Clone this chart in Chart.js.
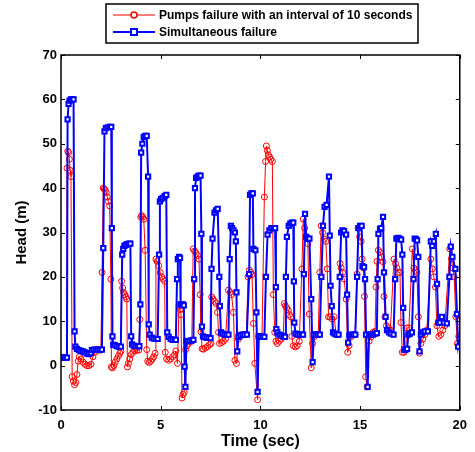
<!DOCTYPE html>
<html>
<head>
<meta charset="utf-8">
<script src="https://cdn.jsdelivr.net/npm/chart.js@4.4.1/dist/chart.umd.min.js"></script>
<style>
  body { margin: 0; background: #fff; }
</style>
</head>
<body>
<canvas id="headChart" width="475" height="452"></canvas>
<script>
var seriesNames = ["Pumps failure with an interval of 10 seconds", "Simultaneous failure"];
var xTicks = [0, 5, 10, 15, 20];
var yTicks = [-10, 0, 10, 20, 30, 40, 50, 60, 70];

// pumps failure with an interval of 10 seconds (red)
var redTime = [0, 0.1, 0.2, 0.27, 0.3, 0.34, 0.38, 0.42, 0.46, 0.5,
  0.56, 0.62, 0.68, 0.74, 0.8, 0.86, 0.92, 1.0, 1.1, 1.2,
  1.3, 1.4, 1.5, 1.6, 1.7, 1.8, 1.9, 2.0, 2.06, 2.12,
  2.17, 2.22, 2.27, 2.32, 2.38, 2.44, 2.5, 2.53, 2.58, 2.65,
  2.72, 2.8, 2.88, 2.95, 3.0, 3.04, 3.09, 3.14, 3.2, 3.25,
  3.3, 3.33, 3.38, 3.45, 3.52, 3.6, 3.7, 3.8, 3.9, 3.95,
  4.0, 4.05, 4.1, 4.15, 4.22, 4.3, 4.35, 4.42, 4.5, 4.58,
  4.65, 4.72, 4.76, 4.82, 4.9, 4.98, 5.05, 5.12, 5.2, 5.23,
  5.3, 5.4, 5.5, 5.6, 5.7, 5.76, 5.84, 5.92, 5.98, 6.02,
  6.07, 6.12, 6.18, 6.25, 6.32, 6.4, 6.48, 6.56, 6.63, 6.7,
  6.78, 6.85, 6.92, 6.98, 7.02, 7.08, 7.15, 7.25, 7.35, 7.45,
  7.52, 7.56, 7.62, 7.7, 7.78, 7.85, 7.9, 7.95, 8.05, 8.15,
  8.25, 8.4, 8.48, 8.55, 8.65, 8.72, 8.8, 8.9, 9.0, 9.1,
  9.2, 9.3, 9.38, 9.45, 9.52, 9.58, 9.65, 9.72, 9.86, 9.92,
  10.0, 10.08, 10.2, 10.26, 10.3, 10.35, 10.4, 10.46, 10.52, 10.6,
  10.65, 10.72, 10.78, 10.85, 10.95, 11.05, 11.15, 11.2, 11.25, 11.32,
  11.4, 11.46, 11.52, 11.58, 11.65, 11.75, 11.85, 11.95, 12.08, 12.15,
  12.22, 12.3, 12.38, 12.45, 12.55, 12.62, 12.7, 12.8, 12.9, 12.98,
  13.05, 13.12, 13.2, 13.28, 13.35, 13.42, 13.5, 13.6, 13.7, 13.8,
  13.9, 14.0, 14.05, 14.12, 14.2, 14.3, 14.38, 14.45, 14.55, 14.65,
  14.75, 14.85, 14.9, 14.98, 15.05, 15.1, 15.17, 15.22, 15.28, 15.35,
  15.45, 15.55, 15.65, 15.75, 15.8, 15.85, 15.92, 16.0, 16.08, 16.15,
  16.2, 16.25, 16.32, 16.42, 16.52, 16.7, 16.78, 16.85, 16.92, 17.0,
  17.05, 17.12, 17.2, 17.28, 17.35, 17.45, 17.62, 17.7, 17.78, 17.85,
  17.92, 17.98, 18.05, 18.15, 18.25, 18.35, 18.55, 18.62, 18.7, 18.78,
  18.85, 18.95, 19.05, 19.15, 19.25, 19.5, 19.58, 19.65, 19.72, 19.8,
  19.88, 19.95, 20.0];
var redHead = [1.8, 1.8, 1.8, 1.8, 44.5, 48.3, 48, 46.5, 44, 42.6,
  -2.5, -3.5, -4.3, -3.8, -2, 1, 2, 1.5, 0.8, 0.3,
  0, 0, 0.3, 2, 3, 3.5, 3.5, 3.5, 21, 40,
  39.8, 39.5, 39, 38, 37, 36, 19.5, -0.3, -0.5, 0,
  0.8, 1.5, 2.2, 2.8, 3.2, 19, 17.5, 16.5, 16, 15.5,
  15, -0.3, 0.5, 1.5, 2.5, 3, 3.3, 3.5, 3.5, 10.4,
  33.5, 33.8, 33.5, 33, 26, 3.6, 1, 0.7, 1, 1.5,
  2, 2.8, 24, 23.5, 22.5, 21, 20, 19.5, 19, 3,
  1.5, 1.2, 1.5, 2, 2.5, 3.3, 0.5, 13.4, 12.7, 11.5,
  -7.3, -6.5, -6, 3.6, 4.5, 5, 5.5, 5.5, 26.3, 25.8,
  25.3, 24.8, 24, 16, 7.6, 3.8, 3.7, 4, 4.3, 4.7,
  5, 15.5, 15, 14.5, 14, 12, 7.5, 5, 5.2, 5.5,
  6, 17, 16.5, 16, 12, 1.2, 0.5, 6, 6.8, 7,
  7, 7, 20, 21.5, 21, 20.5, 9.5, 0.5, -7.7, 6.6,
  6.6, 6.5, 38, 46, 49.5, 48.5, 47.5, 47, 46.5, 46,
  16, 7.5, 5.5, 5, 5.5, 6, 6.5, 14, 13.5, 13,
  12.5, 11.5, 11, 6.6, 4.5, 4.2, 4.5, 5.5, 21.8, 33,
  31, 29, 27.5, 11.6, -0.5, 5, 6.5, 7, 7, 21,
  31.5, 30, 28.5, 28, 21.8, 11, 11, 10.5, 11, 7,
  7, 23, 22, 21, 19.5, 15, 3, 4.5, 6.5, 7,
  7, 20.6, 31, 29, 28, 24, 22, 15.6, -2.5, -4.8,
  5.5, 6.5, 7.5, 7.7, 17.7, 23.5, 26, 25.5, 24.5, 23.4,
  15.6, 11, 9, 8.5, 8, 24, 23, 22, 21, 21,
  9.7, 3, 3, 3.5, 8.5, 8.5, 26.3, 22, 21.5, 21,
  11, 2.8, 5, 6, 7, 8, 24, 21.8, 20, 17.7,
  9, 6.6, 7, 8, 9, 26.3, 24, 22, 20, 11,
  5, 6.6, 6.6];

// simultaneous failure (blue)
var blueTime = [0, 0.1, 0.2, 0.3, 0.33, 0.38, 0.43, 0.5, 0.57, 0.63,
  0.68, 0.72, 0.8, 0.9, 1.0, 1.1, 1.2, 1.3, 1.4, 1.5,
  1.55, 1.65, 1.75, 1.85, 1.95, 2.05, 2.12, 2.18, 2.25, 2.35,
  2.45, 2.52, 2.55, 2.58, 2.62, 2.7, 2.8, 2.9, 3.0, 3.07,
  3.12, 3.18, 3.25, 3.33, 3.41, 3.48, 3.52, 3.56, 3.65, 3.75,
  3.85, 3.93, 3.98, 4.02, 4.08, 4.15, 4.22, 4.3, 4.37, 4.4,
  4.45, 4.55, 4.65, 4.75, 4.85, 4.92, 4.96, 5.02, 5.1, 5.2,
  5.28, 5.33, 5.4, 5.5, 5.6, 5.7, 5.76, 5.82, 5.86, 5.92,
  5.97, 6.0, 6.05, 6.11, 6.16, 6.2, 6.24, 6.29, 6.36, 6.45,
  6.55, 6.64, 6.68, 6.72, 6.78, 6.85, 6.92, 7.0, 7.04, 7.07,
  7.12, 7.2, 7.3, 7.4, 7.5, 7.55, 7.6, 7.7, 7.78, 7.86,
  7.94, 7.97, 8.02, 8.1, 8.2, 8.3, 8.4, 8.46, 8.52, 8.58,
  8.65, 8.72, 8.77, 8.8, 8.84, 8.9, 9.0, 9.1, 9.2, 9.32,
  9.44, 9.48, 9.55, 9.62, 9.65, 9.75, 9.8, 9.86, 9.92, 10.0,
  10.1, 10.2, 10.28, 10.36, 10.45, 10.55, 10.65, 10.74, 10.78, 10.8,
  10.85, 10.95, 11.05, 11.15, 11.24, 11.28, 11.33, 11.42, 11.5, 11.58,
  11.65, 11.68, 11.7, 11.76, 11.86, 11.96, 12.06, 12.14, 12.18, 12.24,
  12.3, 12.38, 12.46, 12.55, 12.62, 12.68, 12.78, 12.88, 12.98, 13.06,
  13.14, 13.22, 13.32, 13.44, 13.48, 13.52, 13.58, 13.64, 13.72, 13.82,
  13.92, 13.98, 14.05, 14.12, 14.2, 14.3, 14.35, 14.4, 14.46, 14.55,
  14.65, 14.76, 14.85, 14.92, 15.0, 15.08, 15.12, 15.2, 15.25, 15.3,
  15.38, 15.45, 15.55, 15.65, 15.75, 15.84, 15.88, 15.92, 16.0, 16.06,
  16.15, 16.2, 16.28, 16.35, 16.45, 16.55, 16.68, 16.76, 16.82, 16.9,
  16.98, 17.06, 17.12, 17.16, 17.22, 17.28, 17.36, 17.42, 17.5, 17.6,
  17.68, 17.74, 17.8, 17.86, 17.92, 17.98, 18.05, 18.15, 18.25, 18.4,
  18.55, 18.62, 18.7, 18.8, 18.86, 18.92, 19.0, 19.1, 19.2, 19.35,
  19.48, 19.55, 19.63, 19.78, 19.86, 19.92, 20.0];
var blueHead = [1.8, 1.8, 1.8, 1.8, 55.5, 59, 59.7, 60, 60, 60,
  7.7, 4.3, 3.8, 3.5, 3.3, 3.2, 3.0, 2.7, 2.6, 2.8,
  3.5, 3.6, 3.6, 3.6, 3.6, 3.6, 26.5, 52.8, 53.5, 53.7,
  53.8, 53.8, 31, 6.6, 4.7, 4.6, 4.4, 4.3, 4.3, 25,
  26.3, 27, 27.2, 27.4, 27.5, 27.5, 6.6, 4.8, 4.5, 4.4,
  4.4, 4.4, 13.8, 48, 50, 51.5, 51.8, 51.8, 42.6, 9.3,
  7, 6.3, 6.1, 6, 6, 25, 37, 37.5, 37.8, 38.2,
  38.5, 7.5, 6.5, 6.0, 5.8, 5.8, 5.8, 19.5, 24, 24.5,
  24.3, 13.8, 13.8, 13.8, 13.6, -0.2, -4.8, 5.5, 5.5, 5.6,
  5.7, 5.8, 19.5, 40, 42.3, 42.6, 42.8, 42.8, 29.7, 8.8,
  6.6, 6.4, 6.3, 6.3, 6.2, 21.8, 28.6, 34.5, 35, 35.3,
  20, 13.4, 7.5, 7.2, 7.0, 7.0, 7.0, 24, 31.5, 31,
  30.5, 30, 28, 16.5, 3.2, 6.5, 6.8, 7, 7, 7,
  20.6, 38.5, 38.8, 38.8, 26.3, 26, 12, -5.9, 6.6, 6.6,
  6.5, 6.5, 20, 29.5, 30.5, 31, 31, 31, 17.7, 8.2,
  7.5, 7, 6.8, 6.6, 6.5, 20, 29, 31.5, 32, 32.2,
  32.2, 19, 9.7, 7.2, 7, 7, 7, 7, 20.6, 34.2,
  29, 28.6, 28.6, 15, 0.8, 7, 7, 7, 7, 20,
  31.5, 35.8, 36.2, 42.6, 29.3, 18, 13.4, 7.5, 7.2, 7,
  7, 20, 30, 30.5, 30.3, 29.5, 16, 5.2, 6.8, 7,
  7, 7, 20, 31, 31.5, 31.5, 22.4, 22.2, 19.5, 7,
  -4.8, 7, 7, 7, 7.2, 7.3, 19.5, 29.7, 30.8, 31,
  33.5, 21, 11, 8, 7.5, 7.2, 7, 19.5, 28.6, 28.8,
  28.6, 28.4, 25, 13, 3.6, 3.6, 3.8, 7, 7.2, 7.5,
  19.5, 28.6, 28.5, 28.2, 24.5, 3.2, 7, 7.5, 7.7, 7.7,
  28, 27, 28, 29.7, 18.4, 9.7, 9.7, 11, 9.7, 9.5,
  20, 26.8, 24.5, 21.8, 11.6, 4.3, 6];

function toPoints(times, heads) {
  var pts = [];
  var n = Math.min(times.length, heads.length);
  for (var i = 0; i < n; i++) {
    pts.push({ x: times[i], y: heads[i] });
  }
  return pts;
}

var fontFamily = "'Liberation Sans', Arial, sans-serif";

// box + inward tick marks on all four sides (matlab look)
var framePlugin = {
  id: "frame",
  afterDatasetsDraw: function (chart) {
    var ctx = chart.ctx;
    var a = chart.chartArea;
    var xs = chart.scales.x;
    var ys = chart.scales.y;
    ctx.save();
    ctx.strokeStyle = "#000";
    ctx.lineWidth = 1.5;
    ctx.strokeRect(a.left, a.top, a.right - a.left, a.bottom - a.top);
    ctx.lineWidth = 1;
    ctx.beginPath();
    xTicks.forEach(function (v) {
      var px = Math.round(xs.getPixelForValue(v)) + 0.5;
      ctx.moveTo(px, a.bottom);
      ctx.lineTo(px, a.bottom - 4);
      ctx.moveTo(px, a.top);
      ctx.lineTo(px, a.top + 4);
    });
    yTicks.forEach(function (v) {
      var py = Math.round(ys.getPixelForValue(v)) + 0.5;
      ctx.moveTo(a.left, py);
      ctx.lineTo(a.left + 4, py);
      ctx.moveTo(a.right, py);
      ctx.lineTo(a.right - 4, py);
    });
    ctx.stroke();
    ctx.restore();
  },
};

var legendPlugin = {
  id: "boxLegend",
  afterDraw: function (chart) {
    var ctx = chart.ctx;
    var box = { left: 106, top: 4, right: 418, bottom: 43 };
    var rows = [
      { y: 15, color: "red", marker: "circle" },
      { y: 32, color: "blue", marker: "rect" },
    ];
    ctx.save();
    ctx.fillStyle = "#fff";
    ctx.fillRect(box.left, box.top, box.right - box.left, box.bottom - box.top);
    ctx.strokeStyle = "#000";
    ctx.lineWidth = 1.5;
    ctx.strokeRect(box.left, box.top, box.right - box.left, box.bottom - box.top);
    rows.forEach(function (r, i) {
      ctx.strokeStyle = r.color;
      ctx.lineWidth = i == 0 ? 1 : 2;
      ctx.beginPath();
      ctx.moveTo(113, r.y);
      ctx.lineTo(155, r.y);
      ctx.stroke();
      ctx.lineWidth = i == 0 ? 1.5 : 2;
      if (r.marker == "circle") {
        ctx.fillStyle = "#fff";
        ctx.beginPath();
        ctx.arc(134, r.y, 3, 0, Math.PI * 2);
        ctx.fill();
        ctx.stroke();
      } else {
        ctx.fillStyle = "#fff";
        ctx.fillRect(131, r.y - 3, 6, 6);
        ctx.strokeRect(131, r.y - 3, 6, 6);
      }
      ctx.fillStyle = "#000";
      ctx.font = "bold 12px " + fontFamily;
      ctx.textBaseline = "middle";
      ctx.textAlign = "left";
      ctx.fillText(seriesNames[i], 159, r.y + 1);
    });
    ctx.restore();
  },
};

new Chart(document.getElementById("headChart"), {
  type: "line",
  data: {
    datasets: [
      {
        label: seriesNames[0],
        data: toPoints(redTime, redHead),
        borderColor: "red",
        borderWidth: 1,
        pointStyle: "circle",
        pointRadius: 3,
        pointBorderWidth: 1,
        pointBorderColor: "red",
        pointBackgroundColor: "rgba(255,255,255,0)",
        order: 2,
      },
      {
        label: seriesNames[1],
        data: toPoints(blueTime, blueHead),
        borderColor: "blue",
        borderWidth: 2,
        pointStyle: "rect",
        pointRadius: 3,
        pointBorderWidth: 2,
        pointBorderColor: "blue",
        pointBackgroundColor: "#fff",
        order: 1,
      },
    ],
  },
  options: {
    responsive: false,
    animation: false,
    layout: { padding: { top: 55, right: 10, left: 0, bottom: 0 } },
    plugins: {
      legend: { display: false },
      tooltip: { enabled: false },
    },
    scales: {
      x: {
        type: "linear",
        min: 0,
        max: 20,
        afterBuildTicks: function (s) {
          s.ticks = xTicks.map(function (v) { return { value: v }; });
        },
        afterFit: function (s) { s.height = 42; },
        grid: { display: false, drawTicks: false },
        border: { display: false },
        ticks: { color: "#000", padding: 8, font: { family: fontFamily, size: 13, weight: "bold" } },
        title: {
          display: true,
          text: "Time (sec)",
          color: "#000",
          padding: { top: 0, bottom: 1 },
          font: { family: fontFamily, size: 16, weight: "bold" },
        },
      },
      y: {
        min: -10,
        max: 70,
        afterBuildTicks: function (s) {
          s.ticks = yTicks.map(function (v) { return { value: v }; });
        },
        afterFit: function (s) { s.width = 61; },
        grid: { display: false, drawTicks: false },
        border: { display: false },
        ticks: { color: "#000", padding: 4, font: { family: fontFamily, size: 13, weight: "bold" } },
        title: {
          display: true,
          text: "Head (m)",
          color: "#000",
          padding: { top: 13, bottom: 0 },
          font: { family: fontFamily, size: 15, weight: "bold" },
        },
      },
    },
  },
  plugins: [framePlugin, legendPlugin],
});
</script>
</body>
</html>
